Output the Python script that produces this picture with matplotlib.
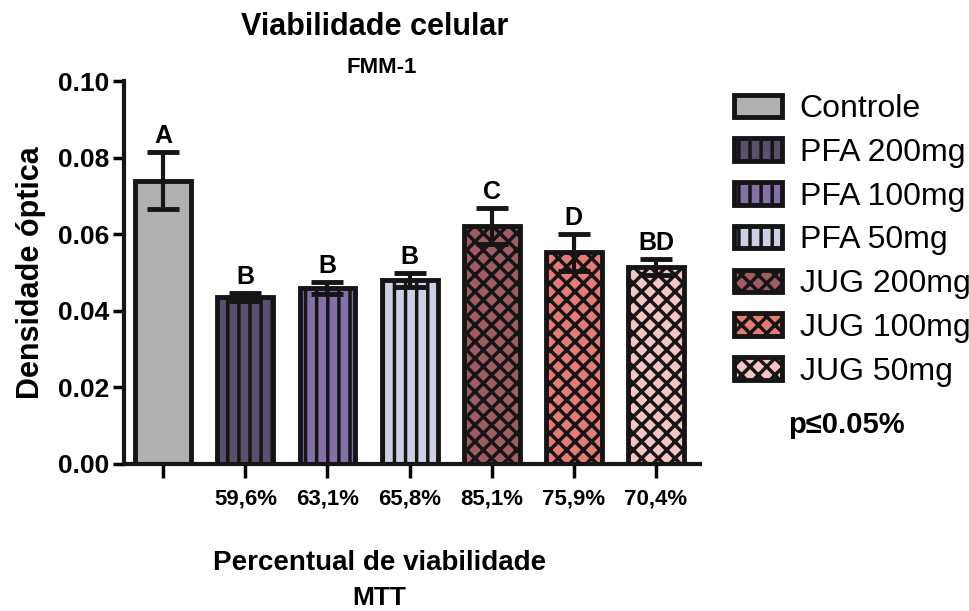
import matplotlib
matplotlib.use("Agg")
import matplotlib.pyplot as plt
import matplotlib.hatch as mhatch
from matplotlib.patches import Patch

plt.rcParams['font.family'] = ['Liberation Sans', 'DejaVu Sans']
plt.rcParams['hatch.linewidth'] = 2.5


class WideVerticalHatch(mhatch.VerticalHatch):
    """Vertical hatch with a slightly wider line spacing."""
    def __init__(self, hatch, density):
        super().__init__(hatch, density)
        self.num_lines = int((hatch.count('|') + hatch.count('+')) * density * 0.75)
        self.num_vertices = self.num_lines * 2


mhatch._hatch_types = [WideVerticalHatch if t is mhatch.VerticalHatch else t
                       for t in mhatch._hatch_types]

groups = ["Controle", "PFA 200mg", "PFA 100mg", "PFA 50mg", "JUG 200mg", "JUG 100mg", "JUG 50mg"]
means = [0.0740, 0.0436, 0.0460, 0.0481, 0.0621, 0.0553, 0.0514]
errors = [0.0074, 0.0010, 0.0015, 0.0018, 0.0047, 0.0048, 0.0021]
letters = ["A", "B", "B", "B", "C", "D", "BD"]
tick_labels = ["", "59,6%", "63,1%", "65,8%", "85,1%", "75,9%", "70,4%"]
colors = ["#b0b0b0", "#5b4f6e", "#8470a8", "#cdd0e4", "#a05b63", "#e57b73", "#f6c4c3"]
hatches = [None, "||", "||", "||", "xx", "xx", "xx"]

fig = plt.figure(figsize=(9.7, 6.11), dpi=100)
ax = fig.add_axes([0.128, 0.2406, 0.594, 0.6264])

x = list(range(len(groups)))
for i in x:
    ax.bar(i, means[i], width=0.68, color=colors[i], edgecolor="#151515",
           linewidth=3.5, hatch=hatches[i], zorder=2)
    ax.errorbar(i, means[i], yerr=errors[i], fmt="none", ecolor="#151515",
                elinewidth=3, capsize=11.5, capthick=3.5, zorder=3)
    ax.text(i, means[i] + errors[i] + 0.0011, letters[i], ha="center", va="bottom",
            fontsize=18, fontweight="bold")

ax.set_xlim(-0.476, 6.54)
ax.set_ylim(0, 0.10)
ax.set_yticks([0, 0.02, 0.04, 0.06, 0.08, 0.10])
ax.set_yticklabels(["0.00", "0.02", "0.04", "0.06", "0.08", "0.10"], fontsize=19, fontweight="bold")
ax.set_xticks(x)
ax.set_xticklabels(tick_labels, fontsize=16, fontweight="bold")
ax.tick_params(axis="x", length=10, width=2.5, pad=8)
ax.tick_params(axis="y", length=8, width=2.5, pad=3)
for s in ["top", "right"]:
    ax.spines[s].set_visible(False)
for s in ["left", "bottom"]:
    ax.spines[s].set_linewidth(3)
    ax.spines[s].set_color("#151515")
ax.set_ylabel("Densidade óptica", fontsize=22, fontweight="bold", labelpad=8)

fig.text(0.386, 0.956, "Viabilidade celular", ha="center", va="center", fontsize=22, fontweight="bold")
fig.text(0.393, 0.889, "FMM-1", ha="center", va="center", fontsize=16, fontweight="bold")
fig.text(0.391, 0.079, "Percentual de viabilidade", ha="center", va="center", fontsize=20, fontweight="bold")
fig.text(0.391, 0.021, "MTT", ha="center", va="center", fontsize=19, fontweight="bold")

handles = [Patch(facecolor=colors[i], edgecolor="#151515", linewidth=3.5, hatch=hatches[i]) for i in x]
fig.legend(handles, groups, loc="upper left", bbox_to_anchor=(0.757, 0.846), frameon=False,
           fontsize=23, handlelength=1.5, handleheight=0.7, labelspacing=0.43, handletextpad=0.55,
           borderpad=0, borderaxespad=0)
fig.text(0.873, 0.304, "p≤0.05%", ha="center", va="center", fontsize=21, fontweight="bold")

fig.savefig("out.png", dpi=100)
